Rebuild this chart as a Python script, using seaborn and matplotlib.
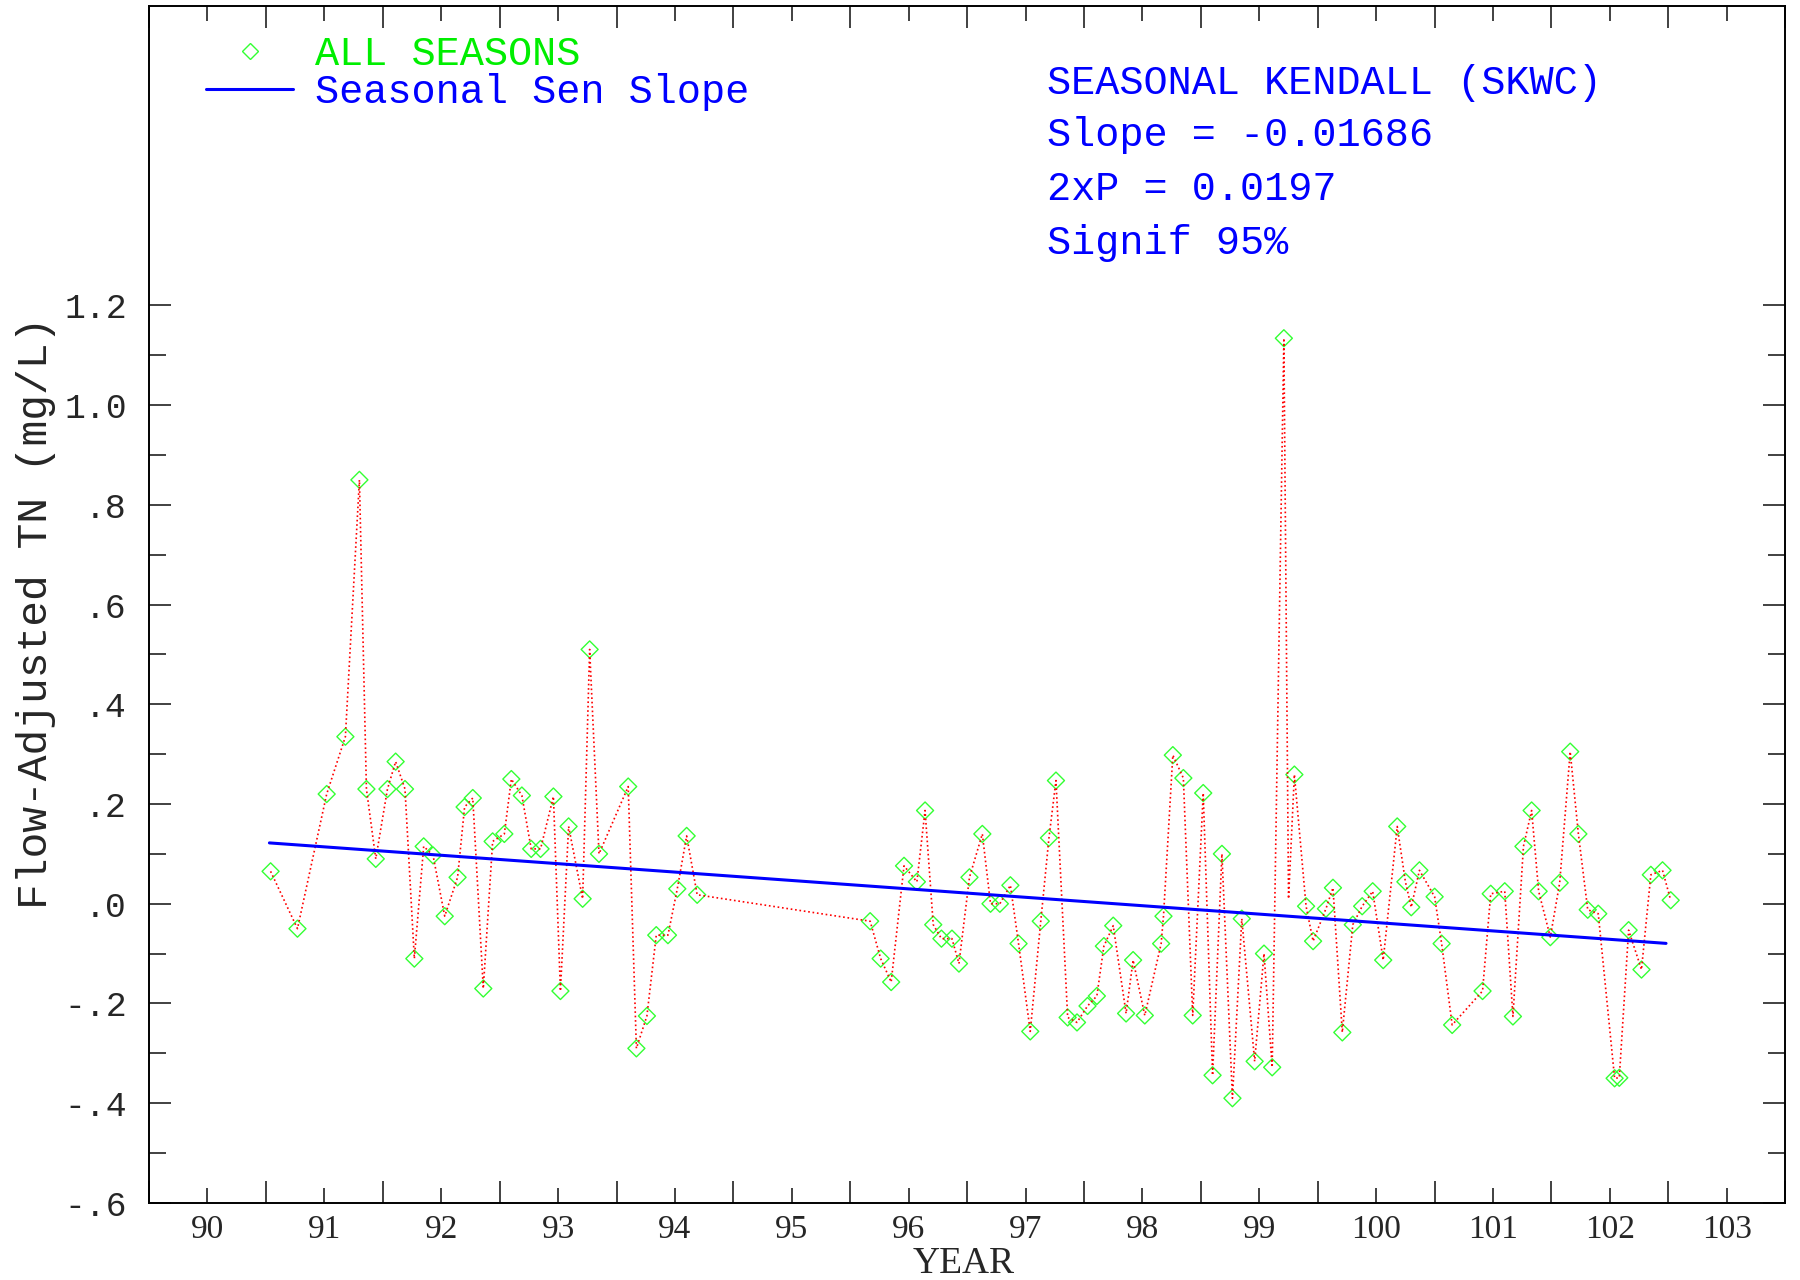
import matplotlib
matplotlib.use("Agg")
import numpy as np
import pandas as pd
import matplotlib.pyplot as plt
import seaborn as sns
from matplotlib.lines import Line2D

# -----------------------------
# data
# -----------------------------
years = [90.54, 90.77, 91.02, 91.18, 91.30, 91.36, 91.44, 91.54, 91.61, 91.69,
         91.77, 91.85, 91.93, 92.03, 92.14, 92.20, 92.27, 92.36, 92.44, 92.54,
         92.60, 92.69, 92.77, 92.85, 92.96, 93.02, 93.09, 93.21, 93.27, 93.35,
         93.60, 93.67, 93.76, 93.84, 93.94, 94.02, 94.10, 94.19,
         95.67, 95.76, 95.85, 95.96, 96.07, 96.14, 96.21, 96.28, 96.37, 96.43,
         96.52, 96.63, 96.70, 96.78, 96.87, 96.94, 97.04, 97.13, 97.20, 97.26,
         97.36, 97.44, 97.53, 97.61, 97.67, 97.75, 97.86, 97.92, 98.02, 98.16,
         98.18, 98.26, 98.35, 98.43, 98.52, 98.60, 98.68, 98.77, 98.85, 98.96,
         99.04, 99.11, 99.21, 99.25, 99.30, 99.40, 99.46, 99.57, 99.63, 99.71,
         99.80, 99.88, 99.97, 100.06, 100.18, 100.25, 100.30, 100.37, 100.50, 100.56,
         100.65, 100.91, 100.98, 101.10, 101.17, 101.26, 101.33, 101.39, 101.49, 101.57,
         101.66, 101.73, 101.81, 101.90, 102.04, 102.08, 102.16, 102.27, 102.35, 102.45,
         102.52]
tn = [0.065, -0.050, 0.220, 0.335, 0.850, 0.230, 0.090, 0.230, 0.285, 0.230,
      -0.110, 0.115, 0.097, -0.025, 0.053, 0.194, 0.212, -0.170, 0.125, 0.140,
      0.250, 0.217, 0.110, 0.110, 0.215, -0.175, 0.155, 0.010, 0.510, 0.100,
      0.235, -0.290, -0.225, -0.063, -0.063, 0.030, 0.136, 0.018,
      -0.035, -0.110, -0.157, 0.076, 0.044, 0.187, -0.042, -0.070, -0.070, -0.120,
      0.053, 0.140, 0.000, 0.000, 0.037, -0.080, -0.256, -0.035, 0.132, 0.247,
      -0.228, -0.238, -0.205, -0.185, -0.085, -0.044, -0.220, -0.113, -0.224, -0.080,
      -0.025, 0.298, 0.252, -0.224, 0.222, -0.344, 0.100, -0.390, -0.030, -0.316,
      -0.100, -0.328, 1.134, 0.010, 0.259, -0.005, -0.075, -0.010, 0.032, -0.258,
      -0.042, -0.005, 0.025, -0.113, 0.155, 0.044, -0.007, 0.067, 0.014, -0.080,
      -0.243, -0.175, 0.020, 0.025, -0.226, 0.115, 0.187, 0.025, -0.067, 0.042,
      0.305, 0.140, -0.012, -0.020, -0.350, -0.349, -0.053, -0.132, 0.058, 0.067,
      0.007]
# the point right after the 99 peak is drawn without a diamond
no_marker = [81]

sen_x = [90.53, 102.48]
sen_y = [0.122, 0.122 - 0.01686 * (102.48 - 90.53)]

stats_lines = ["SEASONAL KENDALL (SKWC)", "Slope = -0.01686", "2xP = 0.0197", "Signif 95%"]

df = pd.DataFrame({"year": years, "tn": tn})
df["marked"] = ~df.index.isin(no_marker)

# -----------------------------
# plot
# -----------------------------
sns.set_style("ticks")
plt.rcParams["font.family"] = ["Liberation Mono", "DejaVu Sans Mono"]

GREEN = "#33ff33"
BLUE = "#0000ff"

fig = plt.figure(figsize=(18, 12.8), dpi=100)
ax = fig.add_axes([0.0828, 0.0602, 0.909, 0.935])

sns.lineplot(data=df, x="year", y="tn", sort=False, estimator=None, ax=ax,
             color="red", linestyle=":", linewidth=1.2, legend=False)
sns.scatterplot(data=df[df["marked"]], x="year", y="tn", ax=ax, marker="D",
                s=75, facecolors="none", edgecolors=GREEN, linewidths=1.0,
                legend=False)
sns.lineplot(x=sen_x, y=sen_y, ax=ax, color=BLUE, linewidth=2.2, legend=False)

ax.set_xlim(89.5, 103.5)
ax.set_ylim(-0.6, 1.8)

# x: long ticks at half years, labelled short ticks at whole years
ax.set_xticks(np.arange(89.5, 103.6, 1.0))
ax.set_xticklabels([])
year_ticks = np.arange(90, 104)
ax.set_xticks(year_ticks, minor=True)
ax.set_xticklabels([str(y) for y in year_ticks], minor=True,
                   fontfamily="Liberation Serif", fontsize=24)

yt = np.round(np.arange(-0.6, 1.21, 0.2), 1)
ylabels = []
for v in yt:
    s = f"{v:.1f}"
    s = s.replace("0.", ".")
    ylabels.append(s)
ax.set_yticks(yt)
ax.set_yticklabels(ylabels, fontsize=25)
ax.set_yticks(np.round(np.arange(-0.5, 1.2, 0.2), 1), minor=True)

ax.tick_params(axis="both", which="both", direction="in", top=True, right=True,
               color="#333333", width=1.3)
ax.tick_params(axis="x", which="major", length=16, pad=8)
ax.tick_params(axis="x", which="minor", length=11, pad=8)
ax.tick_params(axis="y", which="major", length=16, pad=16)
ax.tick_params(axis="y", which="minor", length=12)

for sp in ax.spines.values():
    sp.set_linewidth(1.4)
    sp.set_color("black")

ax.set_xlabel("YEAR", fontfamily="Liberation Serif", fontsize=27)
ax.xaxis.set_label_coords(0.498, -0.036)
ax.set_ylabel("Flow-Adjusted TN (mg/L)", fontsize=31)
ax.yaxis.set_label_coords(-0.057, 0.493)

# legend
handles = [Line2D([], [], marker="D", linestyle="none", markerfacecolor="none",
                  markeredgecolor=GREEN, markersize=8, markeredgewidth=1.0),
           Line2D([], [], color=BLUE, linewidth=2.2)]
leg = ax.legend(handles, ["ALL SEASONS", "Seasonal Sen Slope"], loc="upper left",
                bbox_to_anchor=(0.035, 0.976), frameon=False, fontsize=29,
                handlelength=2.15, handletextpad=0.55, labelspacing=0.0,
                borderpad=0, borderaxespad=0)
leg.get_texts()[0].set_color("#00ee00")
leg.get_texts()[1].set_color(BLUE)

ys = [0.936, 0.892, 0.847, 0.802]
for line, yy in zip(stats_lines, ys):
    ax.text(0.549, yy, line, transform=ax.transAxes, color=BLUE, fontsize=29,
            va="center", ha="left")

fig.savefig("out.png", dpi=100)
